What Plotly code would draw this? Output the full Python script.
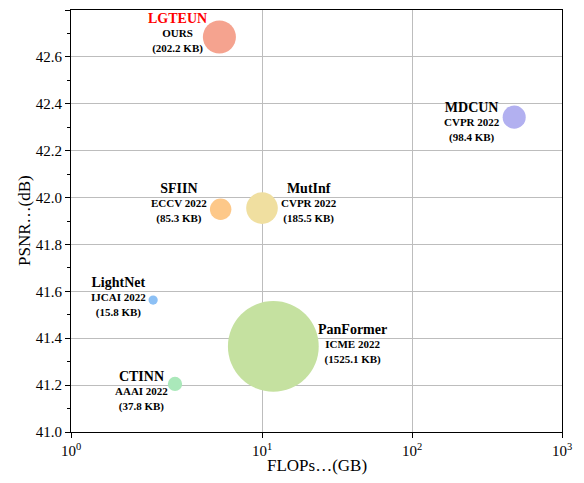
import math
import plotly.graph_objects as go

methods = ["LGTEUN", "MDCUN", "SFIIN", "MutInf", "LightNet", "PanFormer", "CTINN"]
venues = ["OURS", "CVPR 2022", "ECCV 2022", "CVPR 2022", "IJCAI 2022", "ICME 2022", "AAAI 2022"]
flops_gb = [5.2, 480, 5.3, 10.0, 1.88, 11.9, 2.63]
psnr_db = [42.685, 42.343, 41.95, 41.955, 41.563, 41.365, 41.205]
params_kb = [202.2, 98.4, 85.3, 185.5, 15.8, 1525.1, 37.8]

x_tick_vals = [0.533, 10, 100, 1000]
x_tick_text = ["10<sup>0</sup>", "10<sup>1</sup>", "10<sup>2</sup>", "10<sup>3</sup>"]
x_title = "FLOPs…(GB)"
y_title = "PSNR…(dB)"

colors = ["rgb(245,163,143)", "rgb(178,176,240)", "rgb(253,200,137)", "rgb(240,223,160)",
          "rgb(140,192,245)", "rgb(197,225,160)", "rgb(170,232,186)"]
name_colors = ["red", "black", "black", "black", "black", "black", "black"]
label_shift = [(-42, 4), (-42, -5), (-42, 6), (47, 5), (-35, 3), (79, 2), (-33, -7)]

FONT = "Liberation Serif, Times New Roman, serif"

fig = go.Figure()
fig.add_trace(go.Scatter(
    x=flops_gb, y=psnr_db, mode="markers",
    marker=dict(size=params_kb, sizemode="area", sizeref=0.37, color=colors,
                line=dict(width=0), opacity=1),
    showlegend=False, hoverinfo="skip",
))

for i, m in enumerate(methods):
    txt = (f"<span style='font-size:14px;color:{name_colors[i]}'><b>{m}</b></span><br>"
           f"<b>{venues[i]}</b><br><b>({params_kb[i]} KB)</b>")
    fig.add_annotation(x=math.log10(flops_gb[i]), y=psnr_db[i], xref="x", yref="y", text=txt,
                       showarrow=False, xshift=label_shift[i][0], yshift=label_shift[i][1],
                       font=dict(family=FONT, size=11, color="black"), align="center")

fig.add_annotation(x=0.5, y=0, xref="paper", yref="paper", text=x_title, showarrow=False,
                   xanchor="center", yanchor="top", yshift=-22,
                   font=dict(family=FONT, size=17, color="black"))
fig.add_annotation(x=0, y=0.5, xref="paper", yref="paper", text=y_title, showarrow=False,
                   xanchor="center", yanchor="middle", xshift=-47, textangle=-90,
                   font=dict(family=FONT, size=17, color="black"))

fig.update_xaxes(type="log", range=[-0.2733, 3], tickvals=x_tick_vals, ticktext=x_tick_text,
                 automargin=False,
                 showline=True, linecolor="black", linewidth=1, mirror=True,
                 ticks="outside", ticklen=5, tickcolor="black",
                 showgrid=True, gridcolor="#bdbdbd", gridwidth=1, zeroline=False,
                 tickfont=dict(family=FONT, size=15, color="black"))
fig.update_yaxes(range=[41.0, 42.8], dtick=0.2, tickformat=".1f",
                 automargin=False,
                 showline=True, linecolor="black", linewidth=1, mirror=True,
                 ticks="outside", ticklen=5, tickcolor="black",
                 minor=dict(dtick=0.1, ticks="outside", ticklen=3, tickcolor="black", showgrid=False),
                 showgrid=True, gridcolor="#bdbdbd", gridwidth=1, zeroline=False,
                 tickfont=dict(family=FONT, size=15, color="black"))

fig.update_layout(width=568, height=470, margin=dict(l=63, r=14, t=2, b=46),
                  plot_bgcolor="white", paper_bgcolor="white")

fig.write_html("out.html")
